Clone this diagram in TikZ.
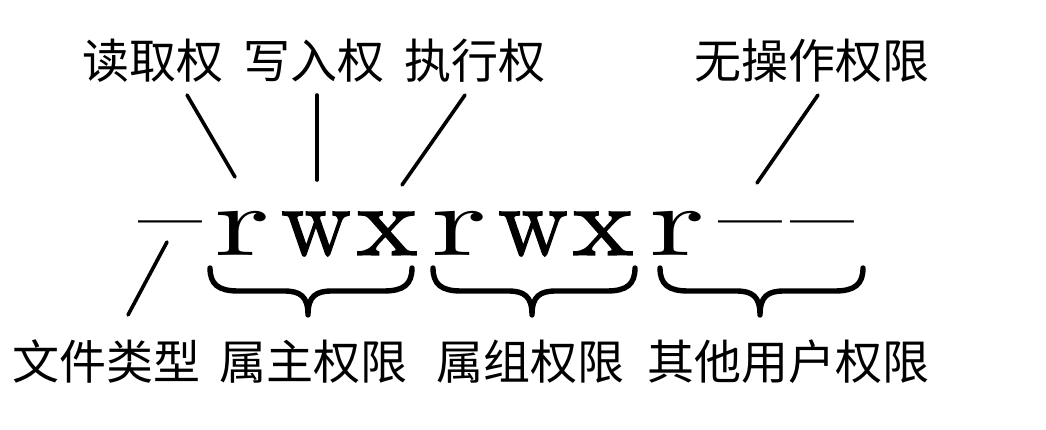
\documentclass[tikz,border=0pt]{standalone}
\usepackage{fontspec}
\newfontfamily\cjk{Noto Sans CJK SC}
\newfontfamily\lmten{lmroman10-regular.otf}
\newfontfamily\lmheavy[FakeBold=1.4]{lmroman10-regular.otf}
\begin{document}
\begin{tikzpicture}[x=1pt,y=-1pt,
  lbl/.style={font=\cjk\fontsize{47}{47}\selectfont, inner sep=0pt, anchor=base},
  ch/.style={font=\lmten\fontsize{100}{100}\selectfont, inner sep=0pt, anchor=base},
  chh/.style={font=\lmheavy\fontsize{100}{100}\selectfont, inner sep=0pt, anchor=base},
  conn/.style={line width=3.6pt, line cap=round},
  brc/.style={line width=5.4pt, line cap=round, line join=round}]
\useasboundingbox (0,0) rectangle (1046,430);
\fill[white] (0,0) rectangle (1046,430);
% top labels
\node[lbl] (t1) at (152.5,79) {读取权};
\node[lbl] (t2) at (314,79) {写入权};
\node[lbl] (t3) at (475,79) {执行权};
\node[lbl] (t4) at (811.5,79) {无操作权限};
% bottom labels
\node[lbl] (b1) at (106.5,379) {文件类型};
\node[lbl] (b2) at (313.5,379) {属主权限};
\node[lbl] (b3) at (530,379) {属组权限};
\node[lbl] (b4) at (788.5,379) {其他用户权限};
% permission string
\newcommand{\dsh}{\raisebox{6pt}{\scalebox{1.28}[1]{–}}}
\newcommand{\lr}{\scalebox{1.42}[1]{r}}
\newcommand{\lw}{\scalebox{0.97}[1]{w}}
\newcommand{\lx}{\scalebox{1.15}[1]{x}}
\node[ch] (c0) at (170,255) {\dsh};
\node[ch] (c1) at (242,255) {\lr};
\node[chh] (c2) at (316,255) {\lw};
\node[chh] (c3) at (387,255) {\lx};
\node[ch] (c4) at (459,255) {\lr};
\node[chh] (c5) at (533,255) {\lw};
\node[chh] (c6) at (603,255) {\lx};
\node[ch] (c7) at (677,255) {\lr};
\node[ch] (c8) at (750,255) {\dsh};
\node[ch] (c9) at (822,255) {\dsh};
% connector ends
\coordinate (p1a) at (187,95);  \coordinate (p1b) at (235,177);
\coordinate (p2a) at (317,95);  \coordinate (p2b) at (317,180);
\coordinate (p3a) at (465,95);  \coordinate (p3b) at (402,185);
\coordinate (p4a) at (818,95);  \coordinate (p4b) at (757,183);
\coordinate (p5a) at (167,242); \coordinate (p5b) at (128,315);
\draw[conn] (p1a) -- (p1b);
\draw[conn] (p2a) -- (p2b);
\draw[conn] (p3a) -- (p3b);
\draw[conn] (p4a) -- (p4b);
\draw[conn] (p5a) -- (p5b);
% braces
\newcommand{\mybrace}[3]{%
  \draw[brc] (#1,268) .. controls (#1,284) and (#1+8,291) .. (#1+28,291)
    -- (#3-24,291) .. controls (#3-8,291) and (#3,296) .. (#3,315)
    .. controls (#3,296) and (#3+8,291) .. (#3+24,291)
    -- (#2-28,291) .. controls (#2-8,291) and (#2,284) .. (#2,268);}
\mybrace{210}{412}{308}
\mybrace{433}{635}{532}
\mybrace{660}{863}{760}
\end{tikzpicture}
\end{document}
